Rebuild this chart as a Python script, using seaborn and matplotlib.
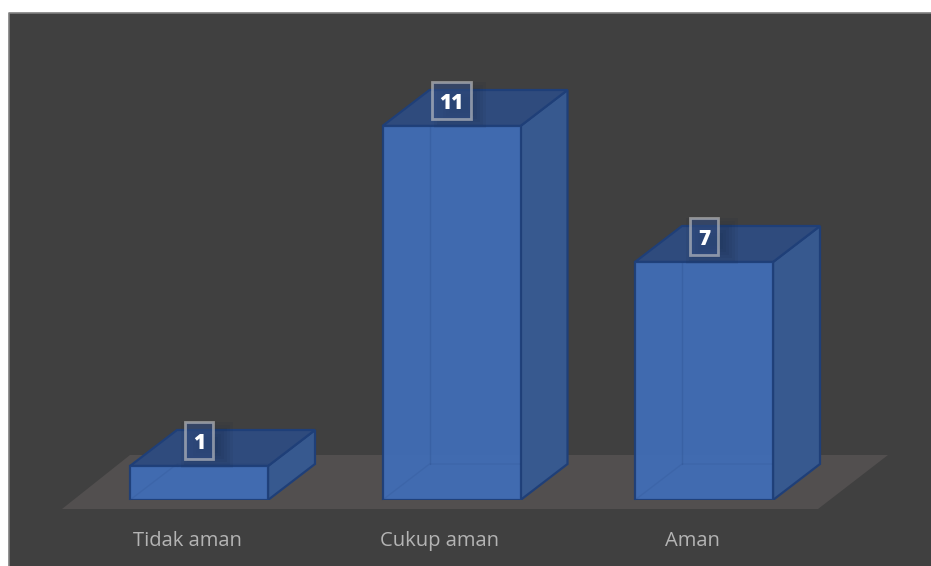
import matplotlib
matplotlib.use("Agg")
import matplotlib.pyplot as plt
import seaborn as sns
import pandas as pd
from matplotlib.lines import Line2D
from matplotlib.patches import Polygon, Rectangle
from matplotlib.transforms import ScaledTranslation

categories = ["Tidak aman", "Cukup aman", "Aman"]
values = [1, 11, 7]

W, H = 931, 566
PX_X = 252.5  # pixels per category
PX_Y = 34.0   # pixels per unit
BASE_Y = 500
FIRST_X = 199
DEPTH_X = 47 / PX_X
DEPTH_Y = 36 / PX_Y

FRONT = "#416db6"
SIDE = "#37598f"
TOP = "#2f4b7d"
EDGE = "#1f3f78"

sns.set_theme(style="dark")
plt.rcParams['font.family'] = ['Open Sans', 'DejaVu Sans']

fig = plt.figure(figsize=(W / 100, H / 100), dpi=100, facecolor="white")

# dark panel behind the axes, lighter border on the top and left sides only
fig.add_artist(Rectangle((8.5 / W, 0), (W - 8.5) / W, (H - 12.5) / H, transform=fig.transFigure,
                         facecolor="#404040", edgecolor="none", zorder=-1))
fig.add_artist(Line2D([8.5 / W, 8.5 / W, 1], [0, (H - 12.5) / H, (H - 12.5) / H],
                      transform=fig.transFigure, color="#7f7f7f", linewidth=1.2, zorder=-0.5))

ax = fig.add_axes([0, (H - BASE_Y) / H, 1, BASE_Y / H])
ax.patch.set_alpha(0)

df = pd.DataFrame({"category": categories, "value": values})
sns.barplot(data=df, x="category", y="value", color=FRONT, saturation=1,
            width=138 / PX_X, edgecolor=EDGE, linewidth=1.6, alpha=0.95, ax=ax)

ax.set_xlim(-FIRST_X / PX_X, (W - FIRST_X) / PX_X)
ax.set_ylim(0, BASE_Y / PX_Y)
ax.set_xlabel("")
ax.set_ylabel("")
ax.set_yticks([])
sns.despine(ax=ax, left=True, bottom=True)
ax.tick_params(axis="x", length=0, pad=22, labelsize=14.5, labelcolor="#b4b4b4")
shift = ScaledTranslation(-12 / 100, 0, fig.dpi_scale_trans)
for lab in ax.get_xticklabels():
    lab.set_transform(lab.get_transform() + shift)

# floor plane
fx = lambda p: (p - FIRST_X) / PX_X
fy = lambda p: (BASE_Y - p) / PX_Y
ax.add_patch(Polygon([(fx(62), fy(509)), (fx(818), fy(509)), (fx(888), fy(455)), (fx(130), fy(455))],
                     closed=True, facecolor="#524f4f", edgecolor="none", zorder=0.5, clip_on=False))

for bar, val in zip(list(ax.patches)[:len(values)], values):
    x0 = bar.get_x()
    x1 = x0 + bar.get_width()
    h = bar.get_height()
    bar.set_zorder(4)

    # back edges seen faintly through the front face
    ax.plot([x0 + DEPTH_X, x0 + DEPTH_X], [DEPTH_Y, h], color=EDGE, lw=1, alpha=0.2, zorder=4.5)
    ax.plot([x0, x0 + DEPTH_X, x1], [0, DEPTH_Y, DEPTH_Y], color=EDGE, lw=1, alpha=0.12, zorder=4.5, clip_on=False)

    ax.add_patch(Polygon([(x1, 0), (x1 + DEPTH_X, DEPTH_Y), (x1 + DEPTH_X, h + DEPTH_Y), (x1, h)],
                         closed=True, facecolor=SIDE, edgecolor=EDGE, linewidth=1.6, zorder=3))
    ax.add_patch(Polygon([(x0, h), (x1, h), (x1 + DEPTH_X, h + DEPTH_Y), (x0 + DEPTH_X, h + DEPTH_Y)],
                         closed=True, facecolor=TOP, edgecolor=EDGE, linewidth=1.6, zorder=3))

    cx = x0 + bar.get_width() / 2
    cy = h + 26 / PX_Y

    # soft shadow of the label box
    for k in range(7):
        sw = (52 - 6 * k) / PX_X
        sh = (46 - 6 * k) / PX_Y
        ax.add_patch(Rectangle((cx + 8 / PX_X - sw / 2, cy - 5 / PX_Y - sh / 2), sw, sh,
                               facecolor="#14233f", edgecolor="none", alpha=0.07, zorder=5))

    # label box, sized by the number of digits
    box_w = (len(str(val)) * 11 + 17) / PX_X
    box_h = 37 / PX_Y
    ax.add_patch(Rectangle((cx - box_w / 2, cy - box_h / 2), box_w, box_h,
                           facecolor=(0.2, 0.31, 0.52, 0.55),
                           edgecolor=(0.8, 0.8, 0.8, 0.6), linewidth=2, zorder=6))
    ax.text(cx, cy - 1 / PX_Y, str(val), ha="center", va="center_baseline", color="white",
            fontsize=15, fontweight="extra bold", zorder=7)

fig.savefig("out.png", dpi=100)
